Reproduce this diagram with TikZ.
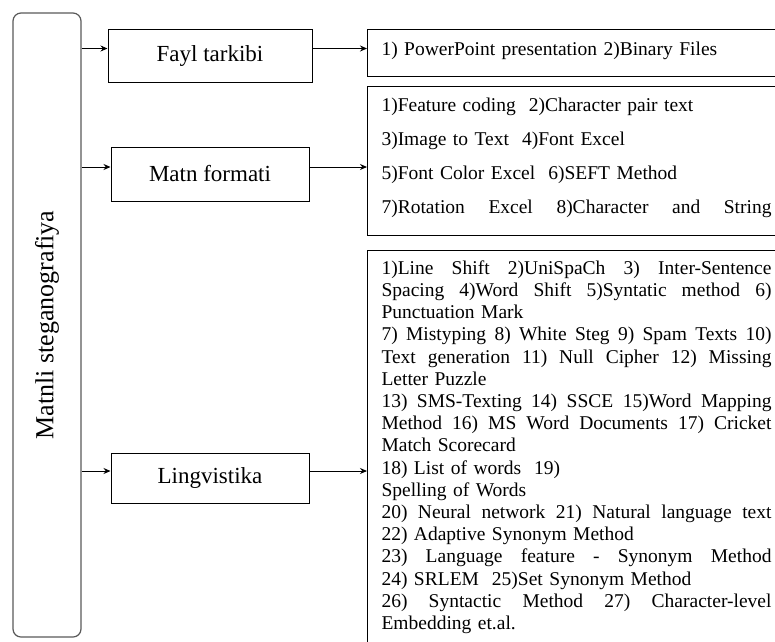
\documentclass[tikz,border=0pt]{standalone}
\usepackage{fontspec}
\setmainfont{Liberation Serif}
\usepackage{tikz}
\usetikzlibrary{positioning, arrows.meta}
\tikzstyle{sidebox} = [rectangle, rounded corners=8pt, draw=black!65, line width=1.2pt, rotate=90, minimum width=624pt, minimum height=68pt, inner sep=0pt, font=\fontsize{26}{30}\selectfont]
\tikzstyle{process} = [rectangle, minimum width=198pt, minimum height=52pt, text centered, draw=black, line width=1pt, font=\fontsize{23}{27}\selectfont]
\tikzstyle{listbox} = [rectangle, anchor=north west, draw=black, line width=1pt, text width=390pt, inner xsep=14pt, align=left, font=\fontsize{19.5}{22.2}\selectfont]
\tikzstyle{arrow} = [-{Stealth[length=7pt, width=6pt]}, line width=0.9pt]
\newcommand{\jline}[1]{{\spaceskip=0.25em plus 1fil\relax\makebox[390pt][s]{#1}}}

\begin{document}
\begin{tikzpicture}[x=1pt, y=-1pt]
		\useasboundingbox (0,0) rectangle (775,641);
		\clip (0,0) rectangle (775,641);
		\node (Matnli)[sidebox] at (47,325) {Matnli steganografiya};
		\node (Fayl)[process, minimum width=204pt, minimum height=53pt] at (210,55.5) {Fayl tarkibi};
		\node (Matn)[process, minimum height=54pt] at (210,174) {Matn formati};
		\node (Ling)[process, minimum height=50pt] at (210,478) {Lingvistika};
		\node (FaylList)[listbox, minimum height=47pt] at (367,29) {1) PowerPoint presentation 2)Binary Files\rule[-8pt]{0pt}{0pt}};
		\node (MatnList)[listbox, minimum height=149pt, font=\fontsize{19.5}{34}\selectfont] at (367,86) {1)Feature coding\ \ 2)Character pair text\\
			3)Image to Text\ \ 4)Font Excel\\
			5)Font Color Excel\ \ 6)SEFT Method\\
			\jline{7)Rotation Excel 8)Character and String}\rule[-10pt]{0pt}{0pt}};
		\node (LingList)[listbox, inner ysep=10pt] at (367,250) {\jline{1)Line Shift 2)UniSpaCh 3) Inter-Sentence}\\
			\jline{Spacing 4)Word Shift 5)Syntatic method 6)}\\
			Punctuation Mark\\
			\jline{7) Mistyping 8) White Steg 9) Spam Texts 10)}\\
			\jline{Text generation 11) Null Cipher 12) Missing}\\
			Letter Puzzle\\
			\jline{13) SMS-Texting 14) SSCE 15)Word Mapping}\\
			\jline{Method 16) MS Word Documents 17) Cricket}\\
			Match Scorecard\\
			18) List of words\ \ 19)\\
			Spelling of Words\\
			\jline{20) Neural network 21) Natural language text}\\
			22) Adaptive Synonym Method\\
			\jline{23) Language feature - Synonym Method}\\
			24) SRLEM\ \ 25)Set Synonym Method\\
			\jline{26) Syntactic Method 27) Character-level}\\
			Embedding et.al.\rule[-30pt]{0pt}{0pt}};
		\draw [arrow] ([yshift=7pt]Fayl.west -| Matnli.south) -- ([yshift=7pt]Fayl.west);
		\draw [arrow] ([yshift=7pt]Matn.west -| Matnli.south) -- ([yshift=7pt]Matn.west);
		\draw [arrow] ([yshift=7pt]Ling.west -| Matnli.south) -- ([yshift=7pt]Ling.west);
		\draw [arrow] ([yshift=7pt]Fayl.east) -- ([yshift=7pt]Fayl.east -| FaylList.west);
		\draw [arrow] ([yshift=7pt]Matn.east) -- ([yshift=7pt]Matn.east -| MatnList.west);
		\draw [arrow] ([yshift=7pt]Ling.east) -- ([yshift=7pt]Ling.east -| LingList.west);
	\end{tikzpicture}
\end{document}
